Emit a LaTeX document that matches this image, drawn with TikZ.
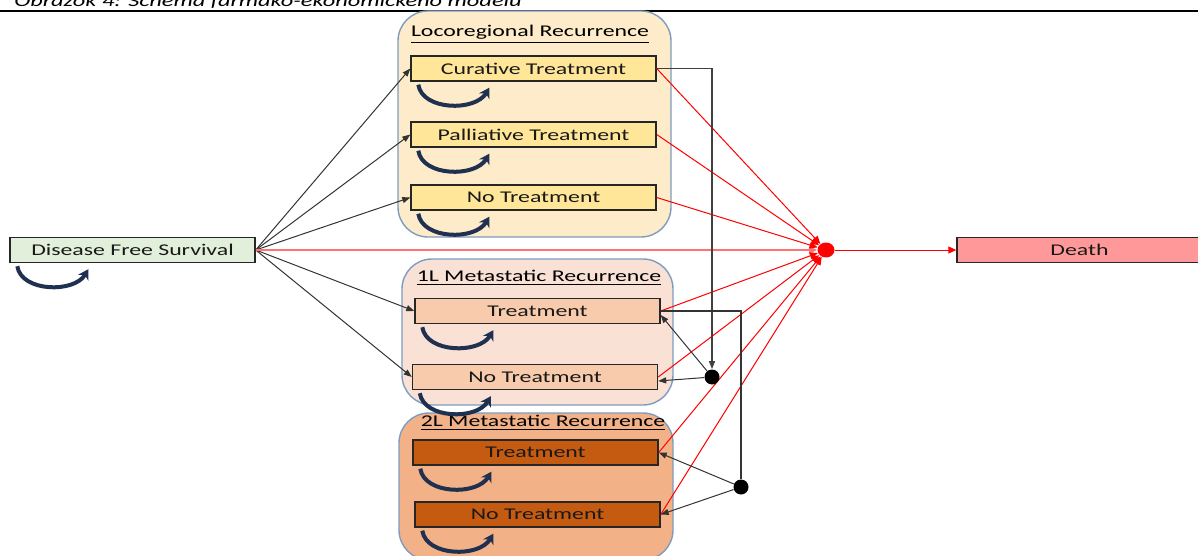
\documentclass[tikz,border=0pt]{standalone}
\usepackage{fontspec}
\setmainfont{Carlito}[FakeStretch=1.45]
\usetikzlibrary{arrows.meta,shapes.geometric}

\definecolor{locfill}{HTML}{FDEBC9}
\definecolor{locbox}{HTML}{FFE699}
\definecolor{onefill}{HTML}{F9E1D6}
\definecolor{onebox}{HTML}{F8CBAD}
\definecolor{twofill}{HTML}{F2B186}
\definecolor{twobox}{HTML}{C55A11}
\definecolor{dfsfill}{HTML}{E2EFDA}
\definecolor{deathfill}{HTML}{FF9999}
\definecolor{grpline}{HTML}{7D9CC0}
\definecolor{loopblue}{HTML}{1F3050}

\begin{document}
\begin{tikzpicture}[x=0.5pt,y=-0.5pt,font=\fontsize{8.2}{9.5}\selectfont,
  state/.style={draw=black!85, line width=0.7pt, minimum width=122.5pt, minimum height=12.5pt, inner sep=0pt, text=black!90},
  group/.style={draw=grpline, line width=0.7pt, rounded corners=15pt, inner sep=0pt},
  selfloop/.style={loopblue, line width=2pt, -{Stealth[length=5pt,width=6pt]}},
  link/.style={black!80, line width=0.5pt, -{Triangle[length=4pt,width=3pt]}},
  redlink/.style={red, line width=0.5pt, -{Triangle[length=4pt,width=3.5pt]}},
  dot/.style={circle, fill=black, inner sep=0pt, minimum size=7.5pt}]
\useasboundingbox (0,0) rectangle (1198,556);

% caption (cut off at the top of the page)
\node [anchor=base west, inner sep=0pt, font=\fontsize{8.4}{10}\selectfont\itshape] (cap) at (14,6.5) {Obrázok 4: Schéma farmako-ekonomického modelu};
\draw [line width=0.6pt] (0,11) -- (1198,11);

% The groups:
\node [group, fill=locfill, minimum width=136.5pt, minimum height=113pt] (locgrp) at (534.5,124) {};
\node [group, fill=onefill, minimum width=135.5pt, minimum height=73pt] (onegrp) at (537.5,332) {};
\node [group, fill=twofill, minimum width=137pt, minimum height=73.5pt] (twogrp) at (536,486.5) {};
\node (loctitle) at (530,34) {\underline{Locoregional Recurrence}};
\node (onetitle) at (539,278) {\underline{1L Metastatic Recurrence}};
\node (twotitle) at (543,423) {\underline{2L Metastatic Recurrence}};

% The states:
\node [state, fill=dfsfill] (dfs) at (132.5,250) {Disease Free Survival};
\node [state, fill=locbox] (cur) at (533.5,68.5) {Curative Treatment};
\node [state, fill=locbox] (pal) at (533.5,134.5) {Palliative Treatment};
\node [state, fill=locbox] (lnt) at (533.5,197.5) {No Treatment};
\node [state, fill=onebox] (t1) at (537.5,311) {Treatment};
\node [state, fill=onebox] (n1) at (535,377) {No Treatment};
\node [state, fill=twobox] (t2) at (535.5,452.5) {Treatment};
\node [state, fill=twobox] (n2) at (537.5,514.5) {No Treatment};
\node [state, fill=deathfill] (death) at (1079.5,250) {Death};

% self loops
\foreach \s in {dfs,cur,pal,lnt,t1,n1,t2,n2}
  \draw [selfloop] ([shift={(8,3)}]\s.south west) .. controls +(4,26) and +(-14,24) .. ([shift={(79,6)}]\s.south west);

% The links:
\foreach \s in {cur,pal,lnt,t1,n1}
  \draw [link] (dfs.east) -- (\s.west);

% to death
\node [ellipse, fill=red, inner sep=0pt, minimum width=8.5pt, minimum height=7.5pt] (rd) at (826,250) {};
\draw [redlink, red!55, line width=0.8pt] (dfs.east) -- (rd);
\foreach \s in {cur,pal,lnt,t1,n1,t2,n2}
  \draw [redlink] (\s.east) -- (rd);
\draw [redlink] (rd) -- (death.west);

% progression
\node [dot] (b1) at (712,377) {};
\node [dot] (b2) at (741,487) {};
\draw [link, black!75, line width=0.7pt] (cur.east) -| (b1);
\draw [link] (b1) -- ([yshift=-2]t1.east);
\draw [link] (b1) -- ([yshift=-2]n1.east);
\draw [black!80, line width=0.7pt] (t1.east) -| (b2);
\draw [link] (b2) -- (t2.east);
\draw [link] (b2) -- (n2.east);

\end{tikzpicture}
\end{document}
